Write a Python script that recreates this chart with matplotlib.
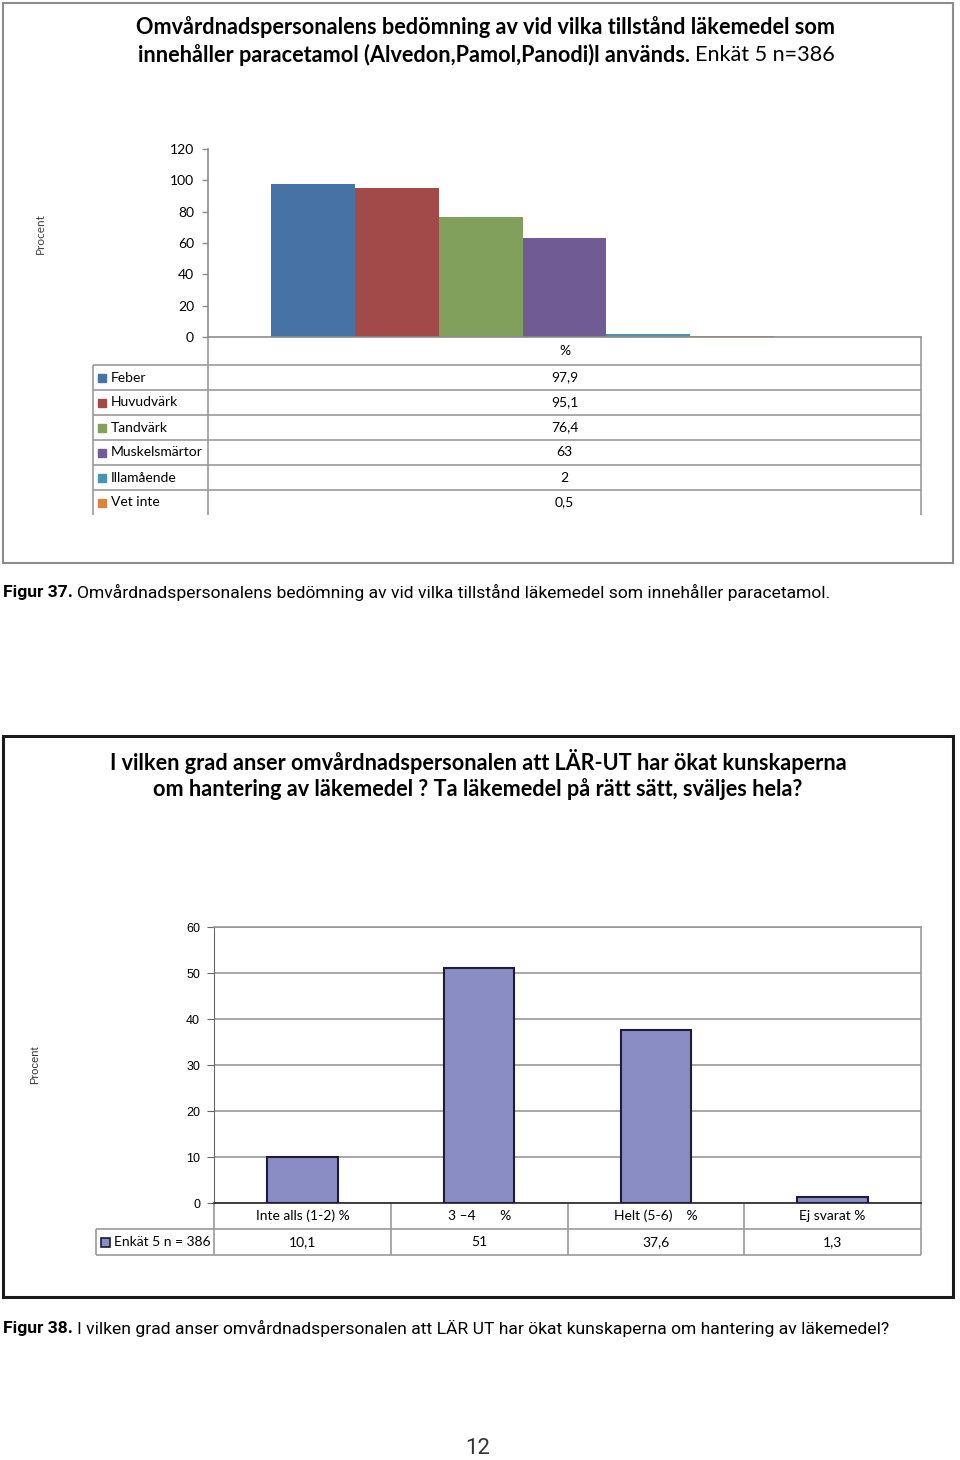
import matplotlib
matplotlib.use('Agg')
import matplotlib.pyplot as plt
from matplotlib.patches import Rectangle

# Figur 37: conditions where paracetamol is used
symptoms = ['Feber', 'Huvudvärk', 'Tandvärk', 'Muskelsmärtor', 'Illamående', 'Vet inte']
symptom_pct = [97.9, 95.1, 76.4, 63, 2, 0.5]
symptom_colors = ['#4672A5', '#A24A49', '#80A05B', '#705B94', '#4497AE', '#DA853C']
yticks1 = [0, 20, 40, 60, 80, 100, 120]

# Figur 38: has LÄR-UT increased knowledge
grades = ['Inte alls (1-2) %', '3 –4       %', 'Helt (5-6)    %', 'Ej svarat %']
grade_pct = [10.1, 51, 37.6, 1.3]
series2 = 'Enkät 5 n = 386'
yticks2 = [0, 10, 20, 30, 40, 50, 60]

title1 = ['Omvårdnadspersonalens bedömning av vid vilka tillstånd läkemedel som',
          'innehåller paracetamol (Alvedon,Pamol,Panodi)l används.', 'Enkät 5 n=386']
title2 = ['I vilken grad anser omvårdnadspersonalen att LÄR-UT har ökat kunskaperna',
          'om hantering av läkemedel ? Ta läkemedel på rätt sätt, sväljes hela?']
caption1 = ('Figur 37.', 'Omvårdnadspersonalens bedömning av vid vilka tillstånd läkemedel som innehåller paracetamol.')
caption2 = ('Figur 38.', 'I vilken grad anser omvårdnadspersonalen att LÄR UT har ökat kunskaperna om hantering av läkemedel?')

CALIBRI = 'Lato'
ARIAL = 'Liberation Sans'
CONDENSED = ['Liberation Sans Narrow', 'Roboto']
GRID = '#9a9a9a'
TITLE_SIZE = 15.6
CAPTION_SIZE = 12.6

plt.rcParams['font.family'] = CALIBRI

W, H = 960, 1460
fig = plt.figure(figsize=(W / 100, H / 100), dpi=100)
fig.patch.set_facecolor('white')


def rect(x0, y0, x1, y1):
    return [x0 / W, 1 - y1 / H, (x1 - x0) / W, (y1 - y0) / H]


def fmt(v):
    return f'{v:g}'.replace('.', ',')


# page overlay in pixel units for frames, titles, tables
page = fig.add_axes([0, 0, 1, 1])
page.set_xlim(0, W)
page.set_ylim(H, 0)
page.axis('off')
renderer = fig.canvas.get_renderer()


def rich(x, y, parts, ha='center', gap=5, **kw):
    """Place (text, weight) pieces one after another on a line."""
    texts = [page.text(0, y, s, fontweight=w, va='center', ha='left', **kw) for s, w in parts]
    widths = [t.get_window_extent(renderer).width for t in texts]
    total = sum(widths) + gap * (len(texts) - 1)
    start = x - total / 2 if ha == 'center' else x
    for t, w in zip(texts, widths):
        t.set_x(start)
        start += w + gap


def hline(y, x0, x1, **kw):
    page.plot([x0, x1], [y, y], color=GRID, lw=1.2, solid_capstyle='butt', **kw)


def vline(x, y0, y1, **kw):
    page.plot([x, x], [y0, y1], color=GRID, lw=1.2, solid_capstyle='butt', **kw)


# ---------------- chart 1 ----------------
page.add_patch(Rectangle((2.5, 2.5), 950.5, 560.5, fill=False, ec='#8c8c8c', lw=1.5))
page.text(486, 27, title1[0], ha='center', va='center', fontsize=TITLE_SIZE, fontweight='bold')
rich(486, 55, [(title1[1], 'bold'), (title1[2], 'normal')], fontsize=TITLE_SIZE)

ax1_left, ax1_right, ax1_top, ax1_bottom = 208, 921, 149, 337
ax1 = fig.add_axes(rect(ax1_left, ax1_top, ax1_right, ax1_bottom))
n_slots = len(symptoms) + 1  # the Excel chart keeps room for one empty series
bw = 1 / (n_slots + 1.5)     # gap width 150 %
xs = [0.5 + (i - (n_slots - 1) / 2) * bw for i in range(len(symptoms))]
ax1.bar(xs, symptom_pct, width=bw, color=symptom_colors, align='center', zorder=2)
ax1.set_xlim(0, 1)
ax1.set_ylim(0, 120)
ax1.set_xticks([])
ax1.set_yticks(yticks1)
for s in ['top', 'right']:
    ax1.spines[s].set_visible(False)
for s in ['left', 'bottom']:
    ax1.spines[s].set_color('#8c8c8c')
    ax1.spines[s].set_linewidth(1.2)
ax1.tick_params(axis='y', direction='out', length=4, width=1, color='#8c8c8c',
                labelsize=10, pad=6)
page.text(40, 234, 'Procent', rotation=90, ha='center', va='center', fontsize=8.5, color='#404040')

# data table under chart 1
row_h = 25
t1_top = 365
t1_left = 93
page.text((ax1_left + ax1_right) / 2, 351, '%', ha='center', va='center', fontsize=10)
vline(ax1_left, ax1_bottom, t1_top + row_h * len(symptoms))
vline(ax1_right, ax1_bottom, t1_top + row_h * len(symptoms))
vline(t1_left, t1_top, t1_top + row_h * len(symptoms))
for i, (name, val, col) in enumerate(zip(symptoms, symptom_pct, symptom_colors)):
    y0 = t1_top + i * row_h
    yc = y0 + row_h / 2
    hline(y0, t1_left, ax1_right)
    page.add_patch(Rectangle((98, yc - 4), 8, 8, color=col))
    page.text(111, yc, name, ha='left', va='center', fontsize=10)
    page.text((ax1_left + ax1_right) / 2, yc, fmt(val), ha='center', va='center', fontsize=10)

rich(3, 592, [(caption1[0], 'bold'), (caption1[1], 'normal')], ha='left', gap=4,
     fontsize=CAPTION_SIZE, family=CONDENSED)

# ---------------- chart 2 ----------------
page.add_patch(Rectangle((3, 736), 950, 561, fill=False, ec='#1a1a1a', lw=2.2))
page.text(478, 761, title2[0], ha='center', va='center', fontsize=TITLE_SIZE, fontweight='bold')
page.text(478, 789, title2[1], ha='center', va='center', fontsize=TITLE_SIZE, fontweight='bold')

ax2_left, ax2_right, ax2_top, ax2_bottom = 214, 921, 927, 1203
ax2 = fig.add_axes(rect(ax2_left, ax2_top, ax2_right, ax2_bottom))
bar_color = '#8A8CC4'
ax2.bar(range(len(grades)), grade_pct, width=0.4, color=bar_color, edgecolor='#1c1c3a',
        linewidth=1.5, zorder=3)
ax2.set_xlim(-0.5, len(grades) - 0.5)
ax2.set_ylim(0, 60)
ax2.set_xticks([])
ax2.set_yticks(yticks2)
ax2.yaxis.grid(True, color=GRID, lw=1.2, zorder=0)
ax2.set_axisbelow(True)
for s in ['top', 'right']:
    ax2.spines[s].set_color(GRID)
    ax2.spines[s].set_linewidth(1.2)
ax2.spines['left'].set_color('#666666')
ax2.spines['bottom'].set_color('#333333')
ax2.spines['bottom'].set_linewidth(1.3)
ax2.tick_params(axis='y', direction='out', length=5, color='#666666', labelsize=9, pad=5)
for lbl in ax2.get_yticklabels():
    lbl.set_fontfamily(ARIAL)
page.text(35, 1065, 'Procent', rotation=90, ha='center', va='center', fontsize=8,
          color='#333333', family=ARIAL)

# data table under chart 2
t2_rows = [ax2_bottom, ax2_bottom + 26, ax2_bottom + 52]
t2_left = 96
col_w = (ax2_right - ax2_left) / len(grades)
vline(ax2_left, t2_rows[0], t2_rows[2])
vline(t2_left, t2_rows[1], t2_rows[2])
hline(t2_rows[1], t2_left, ax2_right)
hline(t2_rows[2], t2_left, ax2_right)
for i, (g, v) in enumerate(zip(grades, grade_pct)):
    vline(ax2_left + (i + 1) * col_w, t2_rows[0], t2_rows[2])
    xc = ax2_left + (i + 0.5) * col_w
    page.text(xc, (t2_rows[0] + t2_rows[1]) / 2, g, ha='center', va='center', fontsize=10)
    page.text(xc, (t2_rows[1] + t2_rows[2]) / 2, fmt(v), ha='center', va='center', fontsize=10)
yc = (t2_rows[1] + t2_rows[2]) / 2
page.add_patch(Rectangle((101, yc - 4.5), 9, 9, facecolor=bar_color, edgecolor='#1c1c3a', lw=1.2))
page.text(114, yc, series2, ha='left', va='center', fontsize=10)

rich(3, 1328, [(caption2[0], 'bold'), (caption2[1], 'normal')], ha='left', gap=4,
     fontsize=CAPTION_SIZE, family=CONDENSED)

page.text(478, 1449, '12', ha='center', va='center', fontsize=16, color='#333333', family=CONDENSED)

fig.savefig('out.png', dpi=100, facecolor='white')
